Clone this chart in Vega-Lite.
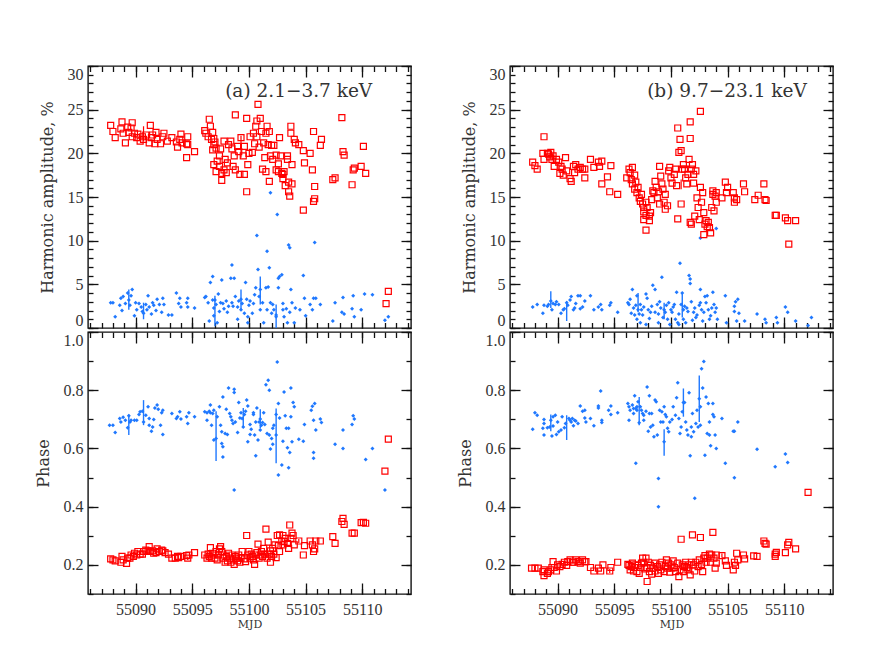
{
"$schema": "https://vega.github.io/schema/vega-lite/v6.json",
"padding": {"left": 34, "top": 64, "right": 5, "bottom": 5},
"config": {
  "view": {"stroke": "#111111", "strokeWidth": 1.4},
  "font": "DejaVu Serif",
  "axis": {"grid": false, "domain": false, "ticks": true, "tickColor": "#111111", "tickWidth": 1.3, "tickOpacity": 1, "labelFont": "Liberation Serif", "labelFontSize": 16, "labelColor": "#333333", "titleFont": "DejaVu Serif", "titleFontSize": 16, "titleFontWeight": "normal", "titleColor": "#333333", "labelFlush": false, "labelOverlap": false}
},
"datasets": {
"a_amp_h1": [{"t":55087.8,"v":23.2},{"t":55088.0,"v":22.5},{"t":55088.2,"v":21.8},{"t":55088.7,"v":22.8},{"t":55088.8,"v":23.6},{"t":55088.9,"v":22.3},{"t":55089.1,"v":21.2},{"t":55089.3,"v":23.0},{"t":55089.4,"v":22.4},{"t":55089.6,"v":22.9},{"t":55089.7,"v":23.5},{"t":55089.7,"v":21.9},{"t":55089.9,"v":22.3},{"t":55090.1,"v":21.8},{"t":55090.2,"v":22.2},{"t":55090.4,"v":21.4},{"t":55090.6,"v":21.9},{"t":55090.7,"v":21.6},{"t":55090.9,"v":22.1},{"t":55091.2,"v":21.2},{"t":55091.3,"v":23.2},{"t":55091.4,"v":21.8},{"t":55091.5,"v":22.1},{"t":55091.7,"v":21.1},{"t":55091.8,"v":22.4},{"t":55091.9,"v":21.6},{"t":55092.2,"v":21.1},{"t":55092.4,"v":21.9},{"t":55092.5,"v":22.3},{"t":55092.8,"v":21.4},{"t":55093.2,"v":21.8},{"t":55093.6,"v":21.3},{"t":55093.7,"v":20.7},{"t":55093.9,"v":21.6},{"t":55094.0,"v":22.2},{"t":55094.1,"v":21.2},{"t":55094.5,"v":21.1},{"t":55094.6,"v":21.9},{"t":55094.5,"v":19.5},{"t":55094.6,"v":21.0},{"t":55095.2,"v":20.2},{"t":55096.1,"v":22.6},{"t":55096.2,"v":22.3},{"t":55096.4,"v":21.9},{"t":55096.5,"v":23.9},{"t":55096.6,"v":23.1},{"t":55096.7,"v":21.6},{"t":55096.8,"v":22.4},{"t":55096.9,"v":21.0},{"t":55096.8,"v":20.4},{"t":55096.9,"v":21.7},{"t":55097.0,"v":21.3},{"t":55097.1,"v":20.6},{"t":55096.9,"v":18.7},{"t":55097.1,"v":17.9},{"t":55097.2,"v":19.1},{"t":55097.4,"v":19.7},{"t":55097.5,"v":20.5},{"t":55097.4,"v":18.5},{"t":55097.6,"v":17.7},{"t":55097.6,"v":16.9},{"t":55097.8,"v":18.1},{"t":55097.9,"v":19.3},{"t":55098.0,"v":17.8},{"t":55098.1,"v":18.9},{"t":55097.8,"v":21.4},{"t":55098.2,"v":21.0},{"t":55098.4,"v":21.4},{"t":55098.5,"v":20.5},{"t":55098.7,"v":19.7},{"t":55098.6,"v":18.5},{"t":55098.8,"v":18.1},{"t":55098.8,"v":24.4},{"t":55099.0,"v":20.8},{"t":55099.1,"v":20.2},{"t":55099.2,"v":17.6},{"t":55099.3,"v":21.8},{"t":55099.5,"v":19.7},{"t":55099.6,"v":17.6},{"t":55099.6,"v":20.8},{"t":55099.8,"v":24.0},{"t":55099.9,"v":18.7},{"t":55099.8,"v":15.6},{"t":55100.0,"v":20.0},{"t":55100.1,"v":21.9},{"t":55100.3,"v":20.1},{"t":55100.4,"v":22.3},{"t":55100.5,"v":21.1},{"t":55100.6,"v":23.1},{"t":55100.7,"v":21.9},{"t":55100.7,"v":23.7},{"t":55100.8,"v":25.6},{"t":55100.9,"v":20.7},{"t":55101.0,"v":24.0},{"t":55101.1,"v":22.5},{"t":55101.2,"v":18.2},{"t":55101.3,"v":21.2},{"t":55101.4,"v":19.5},{"t":55101.5,"v":22.3},{"t":55101.5,"v":17.9},{"t":55101.6,"v":23.1},{"t":55101.7,"v":21.0},{"t":55101.8,"v":22.5},{"t":55101.8,"v":16.8},{"t":55101.9,"v":19.7},{"t":55102.0,"v":20.9},{"t":55102.1,"v":19.3},{"t":55102.2,"v":20.9},{"t":55102.4,"v":19.8},{"t":55102.4,"v":18.1},{"t":55102.6,"v":18.8},{"t":55102.6,"v":17.9},{"t":55102.7,"v":21.8},{"t":55102.8,"v":19.7},{"t":55102.9,"v":17.7},{"t":55103.0,"v":17.6},{"t":55103.0,"v":17.1},{"t":55103.1,"v":17.9},{"t":55103.2,"v":16.3},{"t":55103.4,"v":19.3},{"t":55103.4,"v":19.7},{"t":55103.5,"v":16.7},{"t":55103.5,"v":15.6},{"t":55103.6,"v":15.1},{"t":55103.7,"v":23.1},{"t":55103.7,"v":22.3},{"t":55103.8,"v":18.7},{"t":55103.8,"v":16.5},{"t":55104.0,"v":21.6},{"t":55104.1,"v":21.2},{"t":55104.4,"v":21.0},{"t":55104.8,"v":20.3},{"t":55104.9,"v":18.9},{"t":55104.8,"v":13.5},{"t":55105.4,"v":20.0},{"t":55105.6,"v":18.1},{"t":55105.7,"v":22.5},{"t":55105.8,"v":16.2},{"t":55105.8,"v":14.8},{"t":55105.7,"v":14.5},{"t":55106.3,"v":20.9},{"t":55106.4,"v":21.6},{"t":55107.4,"v":17.0},{"t":55107.6,"v":17.2},{"t":55108.2,"v":24.1},{"t":55108.3,"v":20.2},{"t":55108.4,"v":19.8},{"t":55109.1,"v":16.4},{"t":55109.2,"v":18.1},{"t":55109.3,"v":18.3},{"t":55109.9,"v":18.5},{"t":55110.1,"v":20.8},{"t":55110.3,"v":17.7},{"t":55112.1,"v":2.8},{"t":55112.3,"v":4.2}],
"a_amp_h2": [{"t":55087.8,"v":2.9},{"t":55088.0,"v":2.9},{"t":55088.2,"v":1.3},{"t":55088.6,"v":2.6},{"t":55088.7,"v":3.4},{"t":55088.9,"v":3.6},{"t":55088.8,"v":2.0},{"t":55089.1,"v":2.8},{"t":55089.3,"v":4.0},{"t":55089.4,"v":3.2},{"t":55089.5,"v":2.6},{"t":55089.6,"v":3.7},{"t":55089.7,"v":4.4},{"t":55089.9,"v":1.4},{"t":55090.0,"v":2.9},{"t":55090.1,"v":2.1},{"t":55090.3,"v":2.8},{"t":55090.5,"v":2.4},{"t":55090.6,"v":1.9},{"t":55090.7,"v":1.7},{"t":55090.9,"v":2.7},{"t":55091.0,"v":2.1},{"t":55091.1,"v":3.7},{"t":55091.2,"v":2.4},{"t":55091.4,"v":1.6},{"t":55091.5,"v":2.9},{"t":55091.6,"v":2.6},{"t":55091.8,"v":2.0},{"t":55091.9,"v":3.3},{"t":55092.1,"v":2.7},{"t":55092.3,"v":1.8},{"t":55092.4,"v":3.4},{"t":55092.5,"v":2.7},{"t":55092.9,"v":1.5},{"t":55093.2,"v":1.5},{"t":55093.6,"v":4.0},{"t":55093.8,"v":2.8},{"t":55093.9,"v":3.4},{"t":55094.0,"v":2.4},{"t":55094.5,"v":2.9},{"t":55094.6,"v":3.4},{"t":55094.6,"v":2.4},{"t":55095.2,"v":2.3},{"t":55096.1,"v":3.5},{"t":55096.2,"v":3.6},{"t":55096.4,"v":2.9},{"t":55096.5,"v":0.8},{"t":55096.6,"v":5.2},{"t":55096.8,"v":5.9},{"t":55096.8,"v":3.2},{"t":55096.9,"v":2.3},{"t":55096.9,"v":1.4},{"t":55097.0,"v":3.2},{"t":55097.1,"v":2.7},{"t":55097.2,"v":0.6},{"t":55097.3,"v":3.9},{"t":55097.4,"v":1.9},{"t":55097.5,"v":2.9},{"t":55097.6,"v":5.5},{"t":55097.7,"v":2.8},{"t":55097.8,"v":2.2},{"t":55098.0,"v":3.1},{"t":55098.1,"v":1.8},{"t":55098.2,"v":2.5},{"t":55098.4,"v":5.7},{"t":55098.5,"v":7.2},{"t":55098.5,"v":2.9},{"t":55098.6,"v":2.5},{"t":55098.7,"v":5.7},{"t":55098.8,"v":3.6},{"t":55099.0,"v":2.4},{"t":55099.0,"v":1.0},{"t":55099.1,"v":3.1},{"t":55099.3,"v":2.1},{"t":55099.3,"v":3.3},{"t":55099.4,"v":2.8},{"t":55099.6,"v":1.7},{"t":55099.7,"v":5.2},{"t":55099.8,"v":3.3},{"t":55099.9,"v":0.6},{"t":55099.9,"v":1.3},{"t":55100.0,"v":2.6},{"t":55100.1,"v":3.1},{"t":55100.3,"v":1.7},{"t":55100.4,"v":2.8},{"t":55100.5,"v":3.8},{"t":55100.6,"v":4.6},{"t":55100.7,"v":10.6},{"t":55100.8,"v":6.7},{"t":55100.9,"v":3.6},{"t":55101.0,"v":4.4},{"t":55101.0,"v":2.1},{"t":55101.2,"v":2.9},{"t":55101.3,"v":0.6},{"t":55101.5,"v":4.6},{"t":55101.6,"v":8.8},{"t":55101.6,"v":2.1},{"t":55101.7,"v":4.7},{"t":55101.8,"v":6.9},{"t":55101.9,"v":15.5},{"t":55101.9,"v":2.9},{"t":55102.0,"v":1.7},{"t":55102.1,"v":2.7},{"t":55102.2,"v":2.1},{"t":55102.4,"v":1.3},{"t":55102.4,"v":1.5},{"t":55102.5,"v":13.0},{"t":55102.6,"v":5.7},{"t":55102.6,"v":4.6},{"t":55102.7,"v":5.9},{"t":55102.9,"v":6.1},{"t":55103.0,"v":2.8},{"t":55103.0,"v":2.1},{"t":55103.1,"v":1.3},{"t":55103.3,"v":2.2},{"t":55103.4,"v":0.6},{"t":55103.5,"v":9.5},{"t":55103.6,"v":9.2},{"t":55103.6,"v":1.8},{"t":55103.7,"v":4.4},{"t":55103.8,"v":2.9},{"t":55104.0,"v":0.6},{"t":55104.1,"v":2.3},{"t":55104.5,"v":2.1},{"t":55104.8,"v":6.0},{"t":55104.9,"v":3.4},{"t":55105.0,"v":1.4},{"t":55105.4,"v":2.7},{"t":55105.6,"v":2.1},{"t":55105.7,"v":3.4},{"t":55105.8,"v":9.8},{"t":55105.9,"v":3.4},{"t":55106.3,"v":2.7},{"t":55107.4,"v":0.8},{"t":55107.6,"v":2.9},{"t":55108.3,"v":3.5},{"t":55108.2,"v":1.8},{"t":55108.4,"v":1.6},{"t":55109.1,"v":2.2},{"t":55109.2,"v":3.7},{"t":55109.3,"v":1.3},{"t":55109.9,"v":2.1},{"t":55110.2,"v":3.9},{"t":55110.9,"v":3.8},{"t":55112.0,"v":0.9},{"t":55112.3,"v":1.3}],
"a_amp_h1_err": [{"t":55090.7,"lo":21.4,"hi":23.1},{"t":55099.3,"lo":19.5,"hi":22.0}],
"a_amp_h2_err": [{"t":55089.4,"lo":2.1,"hi":4.4},{"t":55090.7,"lo":1.0,"hi":2.9},{"t":55097.0,"lo":0.2,"hi":3.7},{"t":55099.3,"lo":2.1,"hi":4.4},{"t":55101.0,"lo":2.7,"hi":5.9},{"t":55102.4,"lo":0.0,"hi":2.7}],
"a_ph_h1": [{"t":55087.8,"v":0.221},{"t":55088.0,"v":0.217},{"t":55088.2,"v":0.214},{"t":55088.7,"v":0.209},{"t":55088.8,"v":0.229},{"t":55088.9,"v":0.217},{"t":55089.2,"v":0.205},{"t":55089.3,"v":0.223},{"t":55089.5,"v":0.223},{"t":55089.6,"v":0.234},{"t":55089.8,"v":0.229},{"t":55089.9,"v":0.240},{"t":55090.1,"v":0.234},{"t":55090.2,"v":0.246},{"t":55090.4,"v":0.237},{"t":55090.6,"v":0.237},{"t":55090.7,"v":0.246},{"t":55090.9,"v":0.251},{"t":55091.1,"v":0.248},{"t":55091.2,"v":0.263},{"t":55091.3,"v":0.246},{"t":55091.5,"v":0.248},{"t":55091.6,"v":0.240},{"t":55091.8,"v":0.242},{"t":55091.9,"v":0.255},{"t":55092.1,"v":0.246},{"t":55092.3,"v":0.251},{"t":55092.4,"v":0.248},{"t":55092.6,"v":0.242},{"t":55092.9,"v":0.237},{"t":55093.2,"v":0.223},{"t":55093.5,"v":0.223},{"t":55093.7,"v":0.229},{"t":55093.8,"v":0.225},{"t":55094.0,"v":0.229},{"t":55094.5,"v":0.232},{"t":55094.6,"v":0.223},{"t":55094.7,"v":0.234},{"t":55095.2,"v":0.242},{"t":55096.1,"v":0.234},{"t":55096.3,"v":0.223},{"t":55096.4,"v":0.237},{"t":55096.5,"v":0.229},{"t":55096.6,"v":0.259},{"t":55096.7,"v":0.223},{"t":55096.8,"v":0.240},{"t":55096.9,"v":0.234},{"t":55097.0,"v":0.223},{"t":55097.1,"v":0.246},{"t":55097.2,"v":0.217},{"t":55097.3,"v":0.234},{"t":55097.4,"v":0.255},{"t":55097.5,"v":0.263},{"t":55097.6,"v":0.246},{"t":55097.7,"v":0.223},{"t":55097.8,"v":0.234},{"t":55097.9,"v":0.209},{"t":55098.0,"v":0.229},{"t":55098.1,"v":0.214},{"t":55098.2,"v":0.240},{"t":55098.3,"v":0.223},{"t":55098.4,"v":0.209},{"t":55098.5,"v":0.234},{"t":55098.6,"v":0.217},{"t":55098.7,"v":0.202},{"t":55098.8,"v":0.229},{"t":55098.9,"v":0.223},{"t":55099.0,"v":0.214},{"t":55099.1,"v":0.234},{"t":55099.2,"v":0.209},{"t":55099.3,"v":0.223},{"t":55099.4,"v":0.246},{"t":55099.6,"v":0.221},{"t":55099.7,"v":0.211},{"t":55099.8,"v":0.301},{"t":55099.9,"v":0.234},{"t":55100.0,"v":0.246},{"t":55100.1,"v":0.223},{"t":55100.2,"v":0.237},{"t":55100.3,"v":0.229},{"t":55100.4,"v":0.217},{"t":55100.5,"v":0.202},{"t":55100.6,"v":0.234},{"t":55100.7,"v":0.242},{"t":55100.8,"v":0.271},{"t":55100.9,"v":0.223},{"t":55101.0,"v":0.234},{"t":55101.1,"v":0.246},{"t":55101.2,"v":0.229},{"t":55101.3,"v":0.257},{"t":55101.4,"v":0.237},{"t":55101.5,"v":0.323},{"t":55101.6,"v":0.223},{"t":55101.7,"v":0.278},{"t":55101.8,"v":0.237},{"t":55101.9,"v":0.209},{"t":55101.9,"v":0.248},{"t":55102.0,"v":0.229},{"t":55102.1,"v":0.257},{"t":55102.2,"v":0.237},{"t":55102.3,"v":0.269},{"t":55102.4,"v":0.225},{"t":55102.5,"v":0.301},{"t":55102.6,"v":0.266},{"t":55102.7,"v":0.246},{"t":55102.7,"v":0.303},{"t":55102.9,"v":0.282},{"t":55103.0,"v":0.301},{"t":55103.0,"v":0.269},{"t":55103.1,"v":0.280},{"t":55103.2,"v":0.291},{"t":55103.4,"v":0.274},{"t":55103.5,"v":0.257},{"t":55103.6,"v":0.337},{"t":55103.7,"v":0.291},{"t":55103.8,"v":0.309},{"t":55103.9,"v":0.301},{"t":55104.0,"v":0.269},{"t":55104.4,"v":0.282},{"t":55104.8,"v":0.234},{"t":55104.9,"v":0.266},{"t":55105.4,"v":0.282},{"t":55105.6,"v":0.269},{"t":55105.7,"v":0.246},{"t":55105.8,"v":0.255},{"t":55105.9,"v":0.282},{"t":55106.3,"v":0.282},{"t":55107.4,"v":0.297},{"t":55107.6,"v":0.274},{"t":55108.2,"v":0.349},{"t":55108.3,"v":0.360},{"t":55108.4,"v":0.339},{"t":55109.1,"v":0.309},{"t":55109.3,"v":0.309},{"t":55109.9,"v":0.345},{"t":55110.1,"v":0.346},{"t":55110.3,"v":0.343},{"t":55112.0,"v":0.522},{"t":55112.3,"v":0.632}],
"a_ph_h2": [{"t":55087.7,"v":0.680},{"t":55088.0,"v":0.680},{"t":55088.2,"v":0.655},{"t":55088.6,"v":0.703},{"t":55088.7,"v":0.691},{"t":55088.9,"v":0.707},{"t":55089.1,"v":0.697},{"t":55089.3,"v":0.671},{"t":55089.4,"v":0.712},{"t":55089.5,"v":0.691},{"t":55089.6,"v":0.697},{"t":55089.9,"v":0.697},{"t":55090.1,"v":0.697},{"t":55090.3,"v":0.717},{"t":55090.4,"v":0.726},{"t":55090.6,"v":0.728},{"t":55090.7,"v":0.691},{"t":55090.9,"v":0.714},{"t":55091.1,"v":0.743},{"t":55091.2,"v":0.680},{"t":55091.2,"v":0.703},{"t":55091.4,"v":0.659},{"t":55091.5,"v":0.674},{"t":55091.6,"v":0.699},{"t":55091.7,"v":0.739},{"t":55091.9,"v":0.749},{"t":55092.0,"v":0.735},{"t":55092.2,"v":0.680},{"t":55092.3,"v":0.723},{"t":55092.4,"v":0.648},{"t":55092.4,"v":0.731},{"t":55093.2,"v":0.720},{"t":55093.6,"v":0.703},{"t":55093.7,"v":0.709},{"t":55093.9,"v":0.726},{"t":55094.0,"v":0.701},{"t":55094.5,"v":0.709},{"t":55094.6,"v":0.686},{"t":55094.7,"v":0.723},{"t":55095.2,"v":0.709},{"t":55096.1,"v":0.726},{"t":55096.3,"v":0.723},{"t":55096.3,"v":0.697},{"t":55096.5,"v":0.728},{"t":55096.6,"v":0.723},{"t":55096.6,"v":0.749},{"t":55096.7,"v":0.680},{"t":55096.8,"v":0.720},{"t":55096.9,"v":0.731},{"t":55096.9,"v":0.629},{"t":55097.1,"v":0.634},{"t":55097.2,"v":0.709},{"t":55097.4,"v":0.743},{"t":55097.5,"v":0.680},{"t":55097.6,"v":0.657},{"t":55097.7,"v":0.777},{"t":55097.6,"v":0.617},{"t":55097.7,"v":0.606},{"t":55097.7,"v":0.571},{"t":55097.9,"v":0.651},{"t":55098.0,"v":0.735},{"t":55098.1,"v":0.648},{"t":55098.2,"v":0.808},{"t":55098.3,"v":0.720},{"t":55098.4,"v":0.709},{"t":55098.5,"v":0.697},{"t":55098.6,"v":0.686},{"t":55098.7,"v":0.803},{"t":55098.7,"v":0.792},{"t":55098.7,"v":0.457},{"t":55098.8,"v":0.691},{"t":55099.0,"v":0.655},{"t":55099.1,"v":0.758},{"t":55099.2,"v":0.705},{"t":55099.3,"v":0.723},{"t":55099.4,"v":0.703},{"t":55099.5,"v":0.674},{"t":55099.6,"v":0.717},{"t":55099.7,"v":0.728},{"t":55099.8,"v":0.766},{"t":55099.9,"v":0.746},{"t":55099.9,"v":0.623},{"t":55100.1,"v":0.682},{"t":55100.1,"v":0.648},{"t":55100.2,"v":0.666},{"t":55100.4,"v":0.723},{"t":55100.4,"v":0.717},{"t":55100.5,"v":0.646},{"t":55100.6,"v":0.691},{"t":55100.6,"v":0.575},{"t":55100.7,"v":0.739},{"t":55100.8,"v":0.629},{"t":55100.9,"v":0.691},{"t":55101.0,"v":0.701},{"t":55101.0,"v":0.663},{"t":55101.1,"v":0.680},{"t":55101.2,"v":0.689},{"t":55101.3,"v":0.723},{"t":55101.4,"v":0.682},{"t":55101.5,"v":0.819},{"t":55101.6,"v":0.651},{"t":55101.7,"v":0.834},{"t":55101.8,"v":0.800},{"t":55101.8,"v":0.646},{"t":55101.9,"v":0.598},{"t":55102.0,"v":0.634},{"t":55102.1,"v":0.669},{"t":55102.1,"v":0.614},{"t":55102.2,"v":0.680},{"t":55102.4,"v":0.717},{"t":55102.4,"v":0.646},{"t":55102.5,"v":0.897},{"t":55102.6,"v":0.509},{"t":55102.6,"v":0.754},{"t":55102.7,"v":0.705},{"t":55102.9,"v":0.543},{"t":55103.0,"v":0.625},{"t":55103.1,"v":0.794},{"t":55103.2,"v":0.712},{"t":55103.3,"v":0.669},{"t":55103.4,"v":0.602},{"t":55103.5,"v":0.534},{"t":55103.5,"v":0.669},{"t":55103.6,"v":0.586},{"t":55103.7,"v":0.808},{"t":55103.7,"v":0.709},{"t":55103.8,"v":0.623},{"t":55103.9,"v":0.758},{"t":55104.0,"v":0.743},{"t":55104.4,"v":0.632},{"t":55104.8,"v":0.625},{"t":55104.9,"v":0.682},{"t":55105.5,"v":0.731},{"t":55105.6,"v":0.745},{"t":55105.7,"v":0.697},{"t":55105.7,"v":0.586},{"t":55105.7,"v":0.566},{"t":55105.8,"v":0.754},{"t":55105.9,"v":0.663},{"t":55106.3,"v":0.701},{"t":55106.4,"v":0.689},{"t":55107.6,"v":0.614},{"t":55108.3,"v":0.663},{"t":55108.3,"v":0.600},{"t":55109.1,"v":0.682},{"t":55109.2,"v":0.712},{"t":55109.3,"v":0.701},{"t":55110.3,"v":0.562},{"t":55110.9,"v":0.600},{"t":55112.0,"v":0.457}],
"a_ph_h1_err": [{"t":55094.6,"lo":0.217,"hi":0.229},{"t":55104.4,"lo":0.275,"hi":0.289}],
"a_ph_h2_err": [{"t":55089.4,"lo":0.646,"hi":0.717},{"t":55090.7,"lo":0.680,"hi":0.766},{"t":55097.1,"lo":0.557,"hi":0.728},{"t":55099.5,"lo":0.674,"hi":0.739},{"t":55101.0,"lo":0.669,"hi":0.735},{"t":55102.4,"lo":0.549,"hi":0.737}],
"b_amp_h1": [{"t":55087.8,"v":19.0},{"t":55088.0,"v":18.6},{"t":55088.2,"v":18.2},{"t":55088.8,"v":21.9},{"t":55088.7,"v":20.0},{"t":55088.8,"v":19.3},{"t":55089.1,"v":20.0},{"t":55089.2,"v":19.9},{"t":55089.3,"v":19.6},{"t":55089.4,"v":20.1},{"t":55089.5,"v":19.3},{"t":55089.6,"v":19.7},{"t":55089.7,"v":18.5},{"t":55089.9,"v":19.3},{"t":55090.1,"v":19.0},{"t":55090.2,"v":17.7},{"t":55090.3,"v":18.5},{"t":55090.4,"v":18.2},{"t":55090.5,"v":17.5},{"t":55090.7,"v":19.5},{"t":55090.8,"v":18.0},{"t":55091.1,"v":17.1},{"t":55091.2,"v":16.8},{"t":55091.4,"v":18.5},{"t":55091.5,"v":17.8},{"t":55091.6,"v":18.7},{"t":55091.8,"v":18.2},{"t":55092.0,"v":18.4},{"t":55092.2,"v":18.2},{"t":55092.4,"v":18.2},{"t":55092.4,"v":17.2},{"t":55092.9,"v":19.3},{"t":55093.2,"v":18.4},{"t":55093.6,"v":19.0},{"t":55093.7,"v":18.5},{"t":55093.9,"v":16.5},{"t":55093.9,"v":19.1},{"t":55094.4,"v":17.3},{"t":55094.6,"v":15.6},{"t":55094.7,"v":18.6},{"t":55095.3,"v":15.3},{"t":55096.1,"v":17.2},{"t":55096.3,"v":18.2},{"t":55096.4,"v":17.8},{"t":55096.5,"v":17.0},{"t":55096.6,"v":18.4},{"t":55096.6,"v":16.5},{"t":55096.8,"v":17.5},{"t":55096.8,"v":15.9},{"t":55096.9,"v":16.7},{"t":55097.0,"v":15.5},{"t":55097.1,"v":16.1},{"t":55097.2,"v":14.9},{"t":55097.3,"v":14.5},{"t":55097.4,"v":15.3},{"t":55097.5,"v":14.2},{"t":55097.6,"v":13.3},{"t":55097.6,"v":13.8},{"t":55097.6,"v":12.4},{"t":55097.8,"v":11.2},{"t":55097.8,"v":12.9},{"t":55097.8,"v":14.4},{"t":55097.9,"v":13.8},{"t":55098.1,"v":12.3},{"t":55098.1,"v":12.8},{"t":55098.2,"v":13.2},{"t":55098.3,"v":14.7},{"t":55098.4,"v":15.7},{"t":55098.5,"v":15.5},{"t":55098.6,"v":16.8},{"t":55098.7,"v":16.1},{"t":55098.8,"v":14.9},{"t":55098.9,"v":15.6},{"t":55099.0,"v":14.2},{"t":55099.0,"v":18.5},{"t":55099.1,"v":17.4},{"t":55099.2,"v":16.5},{"t":55099.3,"v":15.9},{"t":55099.4,"v":14.4},{"t":55099.5,"v":15.3},{"t":55099.5,"v":13.6},{"t":55099.7,"v":14.0},{"t":55099.8,"v":18.0},{"t":55099.9,"v":18.4},{"t":55100.0,"v":17.2},{"t":55100.1,"v":16.6},{"t":55100.3,"v":17.6},{"t":55100.4,"v":18.2},{"t":55100.5,"v":16.3},{"t":55100.6,"v":12.5},{"t":55100.6,"v":22.9},{"t":55100.7,"v":20.1},{"t":55100.8,"v":21.6},{"t":55100.9,"v":20.3},{"t":55100.9,"v":14.2},{"t":55101.0,"v":18.2},{"t":55101.1,"v":18.7},{"t":55101.2,"v":18.2},{"t":55101.3,"v":17.2},{"t":55101.4,"v":16.5},{"t":55101.5,"v":17.6},{"t":55101.6,"v":19.3},{"t":55101.7,"v":21.7},{"t":55101.7,"v":23.6},{"t":55101.7,"v":12.1},{"t":55101.8,"v":18.2},{"t":55101.9,"v":18.7},{"t":55102.0,"v":16.6},{"t":55102.0,"v":17.6},{"t":55102.1,"v":12.8},{"t":55102.2,"v":18.0},{"t":55101.8,"v":11.9},{"t":55102.6,"v":24.8},{"t":55102.3,"v":14.9},{"t":55102.4,"v":13.8},{"t":55102.5,"v":12.4},{"t":55102.6,"v":16.1},{"t":55102.7,"v":14.4},{"t":55102.8,"v":15.5},{"t":55102.9,"v":10.7},{"t":55102.9,"v":13.2},{"t":55103.0,"v":11.9},{"t":55103.1,"v":12.3},{"t":55103.2,"v":11.6},{"t":55103.3,"v":12.1},{"t":55103.4,"v":11.5},{"t":55103.5,"v":10.9},{"t":55103.6,"v":13.8},{"t":55103.7,"v":15.3},{"t":55103.7,"v":15.7},{"t":55103.8,"v":13.4},{"t":55103.9,"v":15.1},{"t":55104.0,"v":14.4},{"t":55104.0,"v":15.5},{"t":55104.5,"v":14.9},{"t":55104.8,"v":16.7},{"t":55104.9,"v":15.5},{"t":55105.0,"v":16.1},{"t":55105.5,"v":15.5},{"t":55105.6,"v":14.9},{"t":55105.6,"v":14.4},{"t":55105.8,"v":14.7},{"t":55106.4,"v":16.5},{"t":55106.5,"v":15.6},{"t":55107.4,"v":14.7},{"t":55107.7,"v":15.2},{"t":55108.2,"v":16.5},{"t":55108.3,"v":14.7},{"t":55108.4,"v":14.6},{"t":55109.2,"v":12.9},{"t":55109.3,"v":12.9},{"t":55110.1,"v":12.6},{"t":55110.3,"v":12.3},{"t":55110.4,"v":9.6},{"t":55111.0,"v":12.3}],
"b_amp_h2": [{"t":55087.8,"v":2.4},{"t":55088.2,"v":2.7},{"t":55088.7,"v":1.7},{"t":55088.8,"v":2.6},{"t":55089.1,"v":2.5},{"t":55089.2,"v":2.7},{"t":55089.4,"v":3.1},{"t":55089.5,"v":2.1},{"t":55089.6,"v":2.8},{"t":55089.8,"v":2.7},{"t":55089.9,"v":3.0},{"t":55090.1,"v":2.7},{"t":55090.3,"v":1.7},{"t":55090.5,"v":2.1},{"t":55090.6,"v":2.2},{"t":55090.8,"v":2.9},{"t":55090.9,"v":2.6},{"t":55091.1,"v":3.2},{"t":55091.2,"v":3.6},{"t":55091.4,"v":2.1},{"t":55091.5,"v":2.3},{"t":55091.6,"v":2.8},{"t":55091.8,"v":3.7},{"t":55092.0,"v":3.7},{"t":55092.0,"v":2.2},{"t":55092.2,"v":2.4},{"t":55092.4,"v":3.1},{"t":55092.9,"v":3.7},{"t":55093.2,"v":2.1},{"t":55093.6,"v":2.4},{"t":55093.8,"v":2.7},{"t":55093.9,"v":2.1},{"t":55094.6,"v":2.6},{"t":55094.7,"v":2.9},{"t":55095.3,"v":1.8},{"t":55096.2,"v":2.9},{"t":55096.3,"v":2.7},{"t":55096.4,"v":3.3},{"t":55096.5,"v":1.7},{"t":55096.6,"v":4.4},{"t":55096.7,"v":2.3},{"t":55096.8,"v":1.5},{"t":55096.9,"v":2.6},{"t":55097.0,"v":1.0},{"t":55097.0,"v":3.7},{"t":55097.1,"v":2.1},{"t":55097.2,"v":1.6},{"t":55097.3,"v":2.7},{"t":55097.3,"v":0.6},{"t":55097.4,"v":2.1},{"t":55097.5,"v":1.5},{"t":55097.6,"v":2.4},{"t":55097.8,"v":0.4},{"t":55097.8,"v":3.9},{"t":55097.9,"v":3.4},{"t":55098.0,"v":2.1},{"t":55098.1,"v":1.1},{"t":55098.2,"v":1.8},{"t":55098.3,"v":2.5},{"t":55098.4,"v":4.9},{"t":55098.6,"v":4.4},{"t":55098.6,"v":1.8},{"t":55098.8,"v":2.7},{"t":55098.9,"v":1.6},{"t":55098.9,"v":0.6},{"t":55099.0,"v":3.0},{"t":55099.1,"v":2.3},{"t":55099.2,"v":5.8},{"t":55099.3,"v":1.2},{"t":55099.4,"v":2.1},{"t":55099.5,"v":1.8},{"t":55099.6,"v":2.6},{"t":55099.7,"v":1.0},{"t":55099.8,"v":2.9},{"t":55099.9,"v":0.4},{"t":55100.0,"v":2.1},{"t":55100.1,"v":1.8},{"t":55100.2,"v":2.4},{"t":55100.3,"v":2.7},{"t":55100.4,"v":1.0},{"t":55100.5,"v":4.1},{"t":55100.6,"v":0.6},{"t":55100.7,"v":1.6},{"t":55100.7,"v":0.4},{"t":55100.8,"v":7.4},{"t":55100.9,"v":2.7},{"t":55101.0,"v":4.0},{"t":55101.1,"v":2.1},{"t":55101.1,"v":1.0},{"t":55101.2,"v":2.5},{"t":55101.3,"v":0.6},{"t":55101.4,"v":2.3},{"t":55101.5,"v":1.9},{"t":55101.6,"v":6.0},{"t":55101.7,"v":5.1},{"t":55101.7,"v":5.6},{"t":55101.8,"v":3.0},{"t":55101.9,"v":0.9},{"t":55102.0,"v":1.8},{"t":55102.1,"v":2.3},{"t":55102.2,"v":1.2},{"t":55102.3,"v":1.5},{"t":55102.5,"v":2.6},{"t":55102.6,"v":4.4},{"t":55102.6,"v":2.9},{"t":55102.6,"v":10.3},{"t":55102.7,"v":2.1},{"t":55102.8,"v":0.8},{"t":55102.9,"v":1.8},{"t":55103.0,"v":3.6},{"t":55103.1,"v":2.9},{"t":55103.2,"v":3.7},{"t":55103.3,"v":2.1},{"t":55103.4,"v":1.0},{"t":55103.5,"v":1.4},{"t":55103.6,"v":2.3},{"t":55103.7,"v":4.1},{"t":55103.8,"v":2.7},{"t":55103.9,"v":1.8},{"t":55104.0,"v":2.3},{"t":55104.0,"v":11.4},{"t":55104.1,"v":1.0},{"t":55104.8,"v":3.7},{"t":55104.9,"v":0.6},{"t":55105.6,"v":2.5},{"t":55105.6,"v":1.9},{"t":55105.7,"v":3.0},{"t":55105.8,"v":0.8},{"t":55105.9,"v":3.3},{"t":55106.0,"v":1.7},{"t":55106.5,"v":0.8},{"t":55107.6,"v":1.6},{"t":55108.3,"v":1.0},{"t":55108.4,"v":0.6},{"t":55109.3,"v":1.2},{"t":55109.4,"v":0.6},{"t":55110.1,"v":2.4},{"t":55110.3,"v":1.8},{"t":55111.0,"v":0.8},{"t":55112.1,"v":0.3},{"t":55112.4,"v":1.2}],
"b_amp_h1_err": [{"t":55089.4,"lo":19.5,"hi":20.5},{"t":55100.9,"lo":15.9,"hi":17.0}],
"b_amp_h2_err": [{"t":55089.4,"lo":2.3,"hi":4.2},{"t":55090.8,"lo":0.8,"hi":3.1},{"t":55097.1,"lo":1.8,"hi":4.0},{"t":55099.4,"lo":1.0,"hi":2.9},{"t":55101.0,"lo":1.2,"hi":4.0}],
"b_ph_h1": [{"t":55087.7,"v":0.189},{"t":55088.0,"v":0.189},{"t":55088.3,"v":0.189},{"t":55088.7,"v":0.177},{"t":55088.8,"v":0.163},{"t":55088.8,"v":0.183},{"t":55089.1,"v":0.171},{"t":55089.2,"v":0.177},{"t":55089.4,"v":0.183},{"t":55089.5,"v":0.191},{"t":55089.6,"v":0.211},{"t":55089.7,"v":0.191},{"t":55089.9,"v":0.179},{"t":55090.0,"v":0.200},{"t":55090.2,"v":0.194},{"t":55090.4,"v":0.202},{"t":55090.6,"v":0.209},{"t":55090.8,"v":0.198},{"t":55090.9,"v":0.211},{"t":55091.1,"v":0.217},{"t":55091.3,"v":0.209},{"t":55091.4,"v":0.209},{"t":55091.6,"v":0.217},{"t":55091.8,"v":0.211},{"t":55092.0,"v":0.206},{"t":55092.2,"v":0.217},{"t":55092.4,"v":0.211},{"t":55092.5,"v":0.211},{"t":55092.9,"v":0.191},{"t":55093.2,"v":0.179},{"t":55093.6,"v":0.189},{"t":55093.8,"v":0.179},{"t":55094.0,"v":0.200},{"t":55094.6,"v":0.179},{"t":55094.7,"v":0.191},{"t":55095.3,"v":0.209},{"t":55096.2,"v":0.202},{"t":55096.3,"v":0.198},{"t":55096.4,"v":0.183},{"t":55096.5,"v":0.194},{"t":55096.6,"v":0.206},{"t":55096.7,"v":0.179},{"t":55096.8,"v":0.191},{"t":55096.9,"v":0.200},{"t":55097.0,"v":0.177},{"t":55097.1,"v":0.198},{"t":55097.2,"v":0.171},{"t":55097.3,"v":0.191},{"t":55097.4,"v":0.206},{"t":55097.5,"v":0.223},{"t":55097.6,"v":0.209},{"t":55097.7,"v":0.186},{"t":55097.8,"v":0.223},{"t":55097.9,"v":0.143},{"t":55097.9,"v":0.191},{"t":55098.0,"v":0.209},{"t":55098.1,"v":0.177},{"t":55098.2,"v":0.198},{"t":55098.3,"v":0.168},{"t":55098.4,"v":0.189},{"t":55098.6,"v":0.206},{"t":55098.6,"v":0.179},{"t":55098.8,"v":0.194},{"t":55098.9,"v":0.171},{"t":55099.0,"v":0.200},{"t":55099.1,"v":0.183},{"t":55099.2,"v":0.209},{"t":55099.4,"v":0.177},{"t":55099.5,"v":0.194},{"t":55099.6,"v":0.217},{"t":55099.7,"v":0.189},{"t":55099.8,"v":0.206},{"t":55099.9,"v":0.175},{"t":55100.0,"v":0.200},{"t":55100.1,"v":0.189},{"t":55100.2,"v":0.214},{"t":55100.3,"v":0.191},{"t":55100.4,"v":0.177},{"t":55100.6,"v":0.206},{"t":55100.7,"v":0.160},{"t":55100.8,"v":0.183},{"t":55100.9,"v":0.288},{"t":55101.0,"v":0.200},{"t":55101.1,"v":0.177},{"t":55101.2,"v":0.194},{"t":55101.3,"v":0.209},{"t":55101.4,"v":0.191},{"t":55101.5,"v":0.183},{"t":55101.6,"v":0.200},{"t":55101.7,"v":0.166},{"t":55101.8,"v":0.209},{"t":55101.9,"v":0.303},{"t":55102.0,"v":0.200},{"t":55102.1,"v":0.179},{"t":55102.2,"v":0.209},{"t":55102.4,"v":0.194},{"t":55102.5,"v":0.217},{"t":55102.6,"v":0.294},{"t":55102.7,"v":0.202},{"t":55102.8,"v":0.177},{"t":55102.9,"v":0.223},{"t":55103.0,"v":0.232},{"t":55103.1,"v":0.209},{"t":55103.2,"v":0.223},{"t":55103.4,"v":0.237},{"t":55103.5,"v":0.209},{"t":55103.6,"v":0.234},{"t":55103.7,"v":0.312},{"t":55103.8,"v":0.223},{"t":55103.9,"v":0.189},{"t":55104.0,"v":0.234},{"t":55104.0,"v":0.206},{"t":55104.5,"v":0.232},{"t":55104.8,"v":0.214},{"t":55104.9,"v":0.198},{"t":55105.5,"v":0.183},{"t":55105.6,"v":0.209},{"t":55105.7,"v":0.198},{"t":55105.8,"v":0.240},{"t":55105.9,"v":0.217},{"t":55106.4,"v":0.234},{"t":55106.5,"v":0.221},{"t":55107.3,"v":0.231},{"t":55107.6,"v":0.229},{"t":55108.2,"v":0.282},{"t":55108.3,"v":0.274},{"t":55108.4,"v":0.271},{"t":55109.2,"v":0.237},{"t":55109.3,"v":0.243},{"t":55109.2,"v":0.229},{"t":55110.1,"v":0.242},{"t":55110.3,"v":0.269},{"t":55110.4,"v":0.277},{"t":55111.0,"v":0.255},{"t":55112.1,"v":0.449}],
"b_ph_h2": [{"t":55087.8,"v":0.666},{"t":55088.0,"v":0.723},{"t":55088.2,"v":0.714},{"t":55088.7,"v":0.669},{"t":55088.8,"v":0.699},{"t":55088.8,"v":0.686},{"t":55088.8,"v":0.646},{"t":55089.1,"v":0.671},{"t":55089.3,"v":0.674},{"t":55089.4,"v":0.697},{"t":55089.5,"v":0.643},{"t":55089.6,"v":0.677},{"t":55089.6,"v":0.709},{"t":55089.8,"v":0.714},{"t":55089.9,"v":0.648},{"t":55090.0,"v":0.691},{"t":55090.1,"v":0.657},{"t":55090.3,"v":0.663},{"t":55090.4,"v":0.709},{"t":55090.6,"v":0.671},{"t":55090.7,"v":0.686},{"t":55091.0,"v":0.703},{"t":55091.1,"v":0.697},{"t":55091.2,"v":0.691},{"t":55091.3,"v":0.703},{"t":55091.4,"v":0.678},{"t":55091.5,"v":0.697},{"t":55091.6,"v":0.694},{"t":55091.8,"v":0.686},{"t":55092.0,"v":0.746},{"t":55092.2,"v":0.728},{"t":55092.4,"v":0.731},{"t":55092.4,"v":0.705},{"t":55092.5,"v":0.691},{"t":55092.9,"v":0.703},{"t":55093.2,"v":0.678},{"t":55093.6,"v":0.739},{"t":55093.6,"v":0.746},{"t":55093.8,"v":0.797},{"t":55093.9,"v":0.689},{"t":55093.9,"v":0.697},{"t":55094.5,"v":0.731},{"t":55094.7,"v":0.717},{"t":55094.7,"v":0.746},{"t":55095.3,"v":0.723},{"t":55096.2,"v":0.754},{"t":55096.3,"v":0.743},{"t":55096.3,"v":0.697},{"t":55096.4,"v":0.731},{"t":55096.6,"v":0.749},{"t":55096.7,"v":0.737},{"t":55096.7,"v":0.720},{"t":55096.8,"v":0.781},{"t":55096.9,"v":0.737},{"t":55096.9,"v":0.549},{"t":55097.0,"v":0.743},{"t":55097.0,"v":0.731},{"t":55097.1,"v":0.760},{"t":55097.2,"v":0.688},{"t":55097.3,"v":0.743},{"t":55097.4,"v":0.731},{"t":55097.5,"v":0.720},{"t":55097.6,"v":0.714},{"t":55097.6,"v":0.697},{"t":55097.8,"v":0.728},{"t":55097.9,"v":0.811},{"t":55098.0,"v":0.659},{"t":55098.1,"v":0.720},{"t":55098.1,"v":0.781},{"t":55098.2,"v":0.674},{"t":55098.3,"v":0.720},{"t":55098.4,"v":0.680},{"t":55098.5,"v":0.640},{"t":55098.6,"v":0.766},{"t":55098.7,"v":0.760},{"t":55098.8,"v":0.646},{"t":55098.9,"v":0.400},{"t":55098.9,"v":0.497},{"t":55099.0,"v":0.731},{"t":55099.1,"v":0.691},{"t":55099.2,"v":0.726},{"t":55099.3,"v":0.691},{"t":55099.4,"v":0.743},{"t":55099.4,"v":0.623},{"t":55099.5,"v":0.717},{"t":55099.6,"v":0.709},{"t":55099.7,"v":0.669},{"t":55099.8,"v":0.657},{"t":55099.9,"v":0.691},{"t":55100.1,"v":0.699},{"t":55100.2,"v":0.743},{"t":55100.4,"v":0.714},{"t":55100.5,"v":0.774},{"t":55100.6,"v":0.826},{"t":55100.7,"v":0.703},{"t":55100.8,"v":0.651},{"t":55100.9,"v":0.674},{"t":55101.0,"v":0.726},{"t":55101.1,"v":0.758},{"t":55101.2,"v":0.758},{"t":55101.3,"v":0.691},{"t":55101.4,"v":0.663},{"t":55101.5,"v":0.646},{"t":55101.6,"v":0.791},{"t":55101.7,"v":0.575},{"t":55101.8,"v":0.674},{"t":55101.8,"v":0.640},{"t":55101.9,"v":0.720},{"t":55102.0,"v":0.657},{"t":55102.1,"v":0.429},{"t":55102.2,"v":0.686},{"t":55102.3,"v":0.731},{"t":55102.4,"v":0.674},{"t":55102.5,"v":0.771},{"t":55102.6,"v":0.680},{"t":55102.6,"v":0.743},{"t":55102.7,"v":0.874},{"t":55102.8,"v":0.808},{"t":55102.9,"v":0.899},{"t":55103.0,"v":0.577},{"t":55103.1,"v":0.777},{"t":55103.2,"v":0.651},{"t":55103.3,"v":0.754},{"t":55103.4,"v":0.691},{"t":55103.4,"v":0.646},{"t":55103.5,"v":0.609},{"t":55103.7,"v":0.754},{"t":55103.7,"v":0.717},{"t":55103.8,"v":0.709},{"t":55103.9,"v":0.646},{"t":55104.0,"v":0.600},{"t":55104.5,"v":0.703},{"t":55104.8,"v":0.549},{"t":55105.5,"v":0.659},{"t":55105.6,"v":0.659},{"t":55105.6,"v":0.499},{"t":55105.9,"v":0.691},{"t":55107.6,"v":0.597},{"t":55109.2,"v":0.537},{"t":55110.1,"v":0.581},{"t":55110.3,"v":0.552}],
"b_ph_h1_err": [{"t":55094.6,"lo":0.172,"hi":0.186},{"t":55104.5,"lo":0.225,"hi":0.239}],
"b_ph_h2_err": [{"t":55089.4,"lo":0.659,"hi":0.717},{"t":55090.8,"lo":0.629,"hi":0.714},{"t":55097.2,"lo":0.680,"hi":0.777},{"t":55099.4,"lo":0.575,"hi":0.666},{"t":55101.1,"lo":0.709,"hi":0.806},{"t":55102.5,"lo":0.691,"hi":0.851}]
},
"spacing": 43,
"hconcat": [
 {"spacing": 0, "vconcat": [
  {"width": 323, "height": 262,
   "resolve": {"axis": {"x": "independent", "y": "independent"}},
   "layer": [
    {"data": {"name": "a_amp_h1_err"}, "mark": {"type": "rule", "color": "#ff0000", "strokeWidth": 1.2},
     "encoding": {
      "x": {"field": "t", "type": "quantitative", "scale": {"domain": [55085.8, 55114.3], "nice": false, "zero": false}, "axis": {"orient": "bottom", "values": [55086,55087,55088,55089,55090,55091,55092,55093,55094,55095,55096,55097,55098,55099,55100,55101,55102,55103,55104,55105,55106,55107,55108,55109,55110,55111,55112,55113,55114], "offset": -5.5, "tickSize": 5.5, "labels": false, "title": null}},
      "y": {"field": "lo", "type": "quantitative", "scale": {"domain": [0, 30], "nice": false, "zero": false}, "axis": {"orient": "left", "values": [0,1,2,3,4,5,6,7,8,9,10,11,12,13,14,15,16,17,18,19,20,21,22,23,24,25,26,27,28,29,30], "offset": -5, "tickSize": 5, "labels": false, "title": null}},
      "y2": {"field": "hi"}}},
    {"data": {"name": "a_amp_h2_err"}, "mark": {"type": "rule", "color": "#1f78ff", "strokeWidth": 1.4},
     "encoding": {
      "x": {"field": "t", "type": "quantitative", "axis": {"orient": "top", "values": [55086,55087,55088,55089,55090,55091,55092,55093,55094,55095,55096,55097,55098,55099,55100,55101,55102,55103,55104,55105,55106,55107,55108,55109,55110,55111,55112,55113,55114], "offset": -5.5, "tickSize": 5.5, "labels": false, "title": null}},
      "y": {"field": "lo", "type": "quantitative", "axis": {"orient": "right", "values": [0,1,2,3,4,5,6,7,8,9,10,11,12,13,14,15,16,17,18,19,20,21,22,23,24,25,26,27,28,29,30], "offset": -5, "tickSize": 5, "labels": false, "title": null}},
      "y2": {"field": "hi"}}},
    {"data": {"name": "a_amp_h2"}, "mark": {"type": "point", "shape": "diamond", "filled": true, "size": 16, "color": "#1f78ff", "opacity": 1},
     "encoding": {
      "x": {"field": "t", "type": "quantitative", "axis": {"orient": "top", "values": [55090,55095,55100,55105,55110], "offset": -11, "tickSize": 11, "labels": false, "title": null}},
      "y": {"field": "v", "type": "quantitative", "axis": {"orient": "right", "values": [0,5,10,15,20,25,30], "offset": -10, "tickSize": 10, "labels": false, "title": null}}}},
    {"data": {"name": "a_amp_h1"}, "mark": {"type": "point", "shape": "square", "filled": false, "size": 36, "color": "#ff0000", "strokeWidth": 1.2, "opacity": 1},
     "encoding": {
      "x": {"field": "t", "type": "quantitative", "axis": {"orient": "bottom", "values": [55090,55095,55100,55105,55110], "offset": -11, "tickSize": 11, "labels": false, "title": null}},
      "y": {"field": "v", "type": "quantitative", "axis": {"orient": "left", "values": [0,5,10,15,20,25,30], "offset": -10, "tickSize": 10, "labelPadding": 5, "labelFlush": true, "format": "d", "title": "Harmonic amplitude, %", "titlePadding": 12}}}},
    {"data": {"values": [{"label": "(a) 2.1−3.7 keV"}]}, "mark": {"type": "text", "align": "left", "baseline": "middle", "font": "DejaVu Serif", "fontSize": 18.5, "color": "#333333"},
     "encoding": {"x": {"datum": 55097.9, "type": "quantitative", "axis": null}, "y": {"datum": 27.1, "type": "quantitative", "axis": null}, "text": {"field": "label"}}}
   ]},
  {"width": 323, "height": 262,
   "resolve": {"axis": {"x": "independent", "y": "independent"}},
   "layer": [
    {"data": {"name": "a_ph_h1_err"}, "mark": {"type": "rule", "color": "#ff0000", "strokeWidth": 1.2},
     "encoding": {
      "x": {"field": "t", "type": "quantitative", "scale": {"domain": [55085.8, 55114.3], "nice": false, "zero": false}, "axis": {"orient": "bottom", "values": [55086,55087,55088,55089,55090,55091,55092,55093,55094,55095,55096,55097,55098,55099,55100,55101,55102,55103,55104,55105,55106,55107,55108,55109,55110,55111,55112,55113,55114], "offset": -5.5, "tickSize": 5.5, "labels": false, "title": null}},
      "y": {"field": "lo", "type": "quantitative", "scale": {"domain": [0.1, 1.0], "nice": false, "zero": false}, "axis": {"orient": "left", "values": [0.1,0.2,0.3,0.4,0.5,0.6,0.7,0.8,0.9,1.0], "offset": -5, "tickSize": 5, "labels": false, "title": null}},
      "y2": {"field": "hi"}}},
    {"data": {"name": "a_ph_h2_err"}, "mark": {"type": "rule", "color": "#1f78ff", "strokeWidth": 1.4},
     "encoding": {
      "x": {"field": "t", "type": "quantitative", "axis": {"orient": "top", "values": [55086,55087,55088,55089,55090,55091,55092,55093,55094,55095,55096,55097,55098,55099,55100,55101,55102,55103,55104,55105,55106,55107,55108,55109,55110,55111,55112,55113,55114], "offset": -5.5, "tickSize": 5.5, "labels": false, "title": null}},
      "y": {"field": "lo", "type": "quantitative", "axis": {"orient": "right", "values": [0.1,0.2,0.3,0.4,0.5,0.6,0.7,0.8,0.9,1.0], "offset": -5, "tickSize": 5, "labels": false, "title": null}},
      "y2": {"field": "hi"}}},
    {"data": {"name": "a_ph_h2"}, "mark": {"type": "point", "shape": "diamond", "filled": true, "size": 16, "color": "#1f78ff", "opacity": 1},
     "encoding": {
      "x": {"field": "t", "type": "quantitative", "axis": {"orient": "top", "values": [55090,55095,55100,55105,55110], "offset": -11, "tickSize": 11, "labels": false, "title": null}},
      "y": {"field": "v", "type": "quantitative", "axis": {"orient": "right", "values": [0.2,0.4,0.6,0.8,1.0], "offset": -10, "tickSize": 10, "labels": false, "title": null}}}},
    {"data": {"name": "a_ph_h1"}, "mark": {"type": "point", "shape": "square", "filled": false, "size": 36, "color": "#ff0000", "strokeWidth": 1.2, "opacity": 1},
     "encoding": {
      "x": {"field": "t", "type": "quantitative", "axis": {"orient": "bottom", "values": [55090,55095,55100,55105,55110], "offset": -11, "tickSize": 11, "labels": true, "format": "d", "labelPadding": 7, "labelFlush": false, "title": "MJD", "titleFontSize": 11, "titlePadding": 1}},
      "y": {"field": "v", "type": "quantitative", "axis": {"orient": "left", "values": [0.2,0.4,0.6,0.8,1.0], "offset": -10, "tickSize": 10, "labelPadding": 5, "labelFlush": true, "format": ".1f", "title": "Phase", "titlePadding": 12}}}}
   ]}
 ]},
 {"spacing": 0, "vconcat": [
  {"width": 323, "height": 262,
   "resolve": {"axis": {"x": "independent", "y": "independent"}},
   "layer": [
    {"data": {"name": "b_amp_h1_err"}, "mark": {"type": "rule", "color": "#ff0000", "strokeWidth": 1.2},
     "encoding": {
      "x": {"field": "t", "type": "quantitative", "scale": {"domain": [55085.8, 55114.3], "nice": false, "zero": false}, "axis": {"orient": "bottom", "values": [55086,55087,55088,55089,55090,55091,55092,55093,55094,55095,55096,55097,55098,55099,55100,55101,55102,55103,55104,55105,55106,55107,55108,55109,55110,55111,55112,55113,55114], "offset": -5.5, "tickSize": 5.5, "labels": false, "title": null}},
      "y": {"field": "lo", "type": "quantitative", "scale": {"domain": [0, 30], "nice": false, "zero": false}, "axis": {"orient": "left", "values": [0,1,2,3,4,5,6,7,8,9,10,11,12,13,14,15,16,17,18,19,20,21,22,23,24,25,26,27,28,29,30], "offset": -5, "tickSize": 5, "labels": false, "title": null}},
      "y2": {"field": "hi"}}},
    {"data": {"name": "b_amp_h2_err"}, "mark": {"type": "rule", "color": "#1f78ff", "strokeWidth": 1.4},
     "encoding": {
      "x": {"field": "t", "type": "quantitative", "axis": {"orient": "top", "values": [55086,55087,55088,55089,55090,55091,55092,55093,55094,55095,55096,55097,55098,55099,55100,55101,55102,55103,55104,55105,55106,55107,55108,55109,55110,55111,55112,55113,55114], "offset": -5.5, "tickSize": 5.5, "labels": false, "title": null}},
      "y": {"field": "lo", "type": "quantitative", "axis": {"orient": "right", "values": [0,1,2,3,4,5,6,7,8,9,10,11,12,13,14,15,16,17,18,19,20,21,22,23,24,25,26,27,28,29,30], "offset": -5, "tickSize": 5, "labels": false, "title": null}},
      "y2": {"field": "hi"}}},
    {"data": {"name": "b_amp_h2"}, "mark": {"type": "point", "shape": "diamond", "filled": true, "size": 16, "color": "#1f78ff", "opacity": 1},
     "encoding": {
      "x": {"field": "t", "type": "quantitative", "axis": {"orient": "top", "values": [55090,55095,55100,55105,55110], "offset": -11, "tickSize": 11, "labels": false, "title": null}},
      "y": {"field": "v", "type": "quantitative", "axis": {"orient": "right", "values": [0,5,10,15,20,25,30], "offset": -10, "tickSize": 10, "labels": false, "title": null}}}},
    {"data": {"name": "b_amp_h1"}, "mark": {"type": "point", "shape": "square", "filled": false, "size": 36, "color": "#ff0000", "strokeWidth": 1.2, "opacity": 1},
     "encoding": {
      "x": {"field": "t", "type": "quantitative", "axis": {"orient": "bottom", "values": [55090,55095,55100,55105,55110], "offset": -11, "tickSize": 11, "labels": false, "title": null}},
      "y": {"field": "v", "type": "quantitative", "axis": {"orient": "left", "values": [0,5,10,15,20,25,30], "offset": -10, "tickSize": 10, "labelPadding": 5, "labelFlush": true, "format": "d", "title": "Harmonic amplitude, %", "titlePadding": 12}}}},
    {"data": {"values": [{"label": "(b) 9.7−23.1 keV"}]}, "mark": {"type": "text", "align": "left", "baseline": "middle", "font": "DejaVu Serif", "fontSize": 18.5, "color": "#333333"},
     "encoding": {"x": {"datum": 55097.9, "type": "quantitative", "axis": null}, "y": {"datum": 27.1, "type": "quantitative", "axis": null}, "text": {"field": "label"}}}
   ]},
  {"width": 323, "height": 262,
   "resolve": {"axis": {"x": "independent", "y": "independent"}},
   "layer": [
    {"data": {"name": "b_ph_h1_err"}, "mark": {"type": "rule", "color": "#ff0000", "strokeWidth": 1.2},
     "encoding": {
      "x": {"field": "t", "type": "quantitative", "scale": {"domain": [55085.8, 55114.3], "nice": false, "zero": false}, "axis": {"orient": "bottom", "values": [55086,55087,55088,55089,55090,55091,55092,55093,55094,55095,55096,55097,55098,55099,55100,55101,55102,55103,55104,55105,55106,55107,55108,55109,55110,55111,55112,55113,55114], "offset": -5.5, "tickSize": 5.5, "labels": false, "title": null}},
      "y": {"field": "lo", "type": "quantitative", "scale": {"domain": [0.1, 1.0], "nice": false, "zero": false}, "axis": {"orient": "left", "values": [0.1,0.2,0.3,0.4,0.5,0.6,0.7,0.8,0.9,1.0], "offset": -5, "tickSize": 5, "labels": false, "title": null}},
      "y2": {"field": "hi"}}},
    {"data": {"name": "b_ph_h2_err"}, "mark": {"type": "rule", "color": "#1f78ff", "strokeWidth": 1.4},
     "encoding": {
      "x": {"field": "t", "type": "quantitative", "axis": {"orient": "top", "values": [55086,55087,55088,55089,55090,55091,55092,55093,55094,55095,55096,55097,55098,55099,55100,55101,55102,55103,55104,55105,55106,55107,55108,55109,55110,55111,55112,55113,55114], "offset": -5.5, "tickSize": 5.5, "labels": false, "title": null}},
      "y": {"field": "lo", "type": "quantitative", "axis": {"orient": "right", "values": [0.1,0.2,0.3,0.4,0.5,0.6,0.7,0.8,0.9,1.0], "offset": -5, "tickSize": 5, "labels": false, "title": null}},
      "y2": {"field": "hi"}}},
    {"data": {"name": "b_ph_h2"}, "mark": {"type": "point", "shape": "diamond", "filled": true, "size": 16, "color": "#1f78ff", "opacity": 1},
     "encoding": {
      "x": {"field": "t", "type": "quantitative", "axis": {"orient": "top", "values": [55090,55095,55100,55105,55110], "offset": -11, "tickSize": 11, "labels": false, "title": null}},
      "y": {"field": "v", "type": "quantitative", "axis": {"orient": "right", "values": [0.2,0.4,0.6,0.8,1.0], "offset": -10, "tickSize": 10, "labels": false, "title": null}}}},
    {"data": {"name": "b_ph_h1"}, "mark": {"type": "point", "shape": "square", "filled": false, "size": 36, "color": "#ff0000", "strokeWidth": 1.2, "opacity": 1},
     "encoding": {
      "x": {"field": "t", "type": "quantitative", "axis": {"orient": "bottom", "values": [55090,55095,55100,55105,55110], "offset": -11, "tickSize": 11, "labels": true, "format": "d", "labelPadding": 7, "labelFlush": false, "title": "MJD", "titleFontSize": 11, "titlePadding": 1}},
      "y": {"field": "v", "type": "quantitative", "axis": {"orient": "left", "values": [0.2,0.4,0.6,0.8,1.0], "offset": -10, "tickSize": 10, "labelPadding": 5, "labelFlush": true, "format": ".1f", "title": "Phase", "titlePadding": 12}}}}
   ]}
 ]}
]
}
